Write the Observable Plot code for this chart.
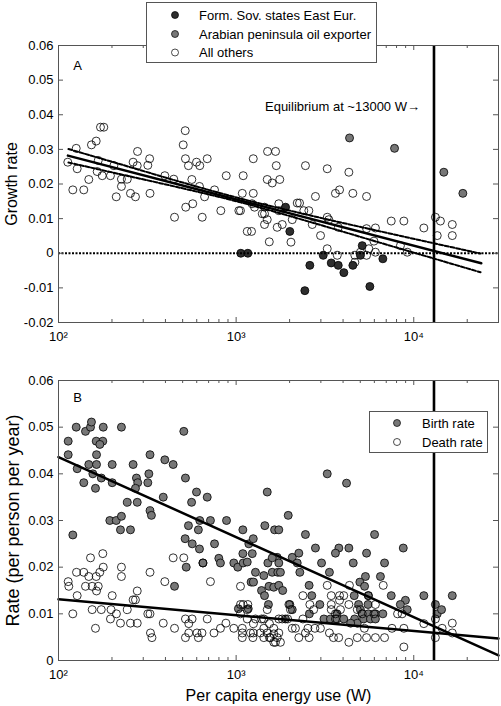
<!DOCTYPE html>
<html><head><meta charset="utf-8">
<script src="https://cdn.jsdelivr.net/npm/d3@7"></script>
<script src="https://cdn.jsdelivr.net/npm/@observablehq/plot@0.6"></script>
<style>
body{margin:0;background:#fff;}
#wrap{position:relative;width:501px;height:706px;overflow:hidden;background:#fff;}
#wrap .panel{position:absolute;left:0;}
#wrap .legend{position:absolute;}
</style>
</head><body>
<div id="wrap"></div>
<script>
// ---------- Panel A data: [energy use (W), growth rate] ----------
const othersA = [[112.8,0.0263],[125.8,0.0303],[127.4,0.0244],[120.4,0.0183],[138.8,0.0183],[148.1,0.0213],[153.3,0.0313],[163,0.0324],[172.3,0.0364],[179.9,0.0364],[165.1,0.0236],[176.3,0.0224],[167.4,0.0268],[196.1,0.0224],[204.9,0.0253],[211.4,0.0163],[226.1,0.0193],[226.1,0.0214],[244,0.0214],[254.2,0.0173],[271.2,0.0163],[263.1,0.0263],[278.6,0.0294],[277.5,0.0253],[318.3,0.0254],[325.9,0.0273],[327.5,0.0173],[396.8,0.0224],[450,0.0104],[445.6,0.0214],[503.6,0.0313],[516.9,0.0354],[518.4,0.0273],[539,0.0253],[520.4,0.0133],[563.2,0.0213],[569.8,0.0143],[598.4,0.0263],[624.2,0.0253],[621.8,0.0193],[644.3,0.0104],[664.4,0.0163],[687.6,0.0273],[755.8,0.0183],[820,0.0123],[879.8,0.0224],[1036,0.0123],[1058,0.0123],[1096,0.0224],[1083,0.0173],[1155,0.0063],[1221,0.0063],[1249,0.0273],[1249,0.0173],[1229,0.0143],[1269,0.0133],[1403,0.0114],[1445,0.0083],[1503,0.0294],[1497,0.0213],[1537,0.0033],[1597,0.0203],[1667,0.0294],[1683,0.0253],[1739,0.0143],[1761,0.0213],[1445,0.0114],[1497,0.0097],[1739,0.0123],[1703,0.0075],[1818,0.0083],[2070,0.0097],[2036,0.0032],[2208,0.0145],[2275,0.0145],[2405,0.0123],[2567,0.0123],[2683,0.0083],[2987,0.0051],[3258,0.0104],[3258,0.0013],[3325,0.0097],[3710,-0.0006],[3760,0.0075],[4312,0.0234],[3258,0.0244],[2456,0.0253],[2796,0.0164],[3623,0.0173],[3822,0.0183],[4541,0.0173],[5424,0.0164],[4661,-0.0006],[4661,-0.0026],[5010,0.0003],[5424,-0.0006],[5588,0.0013],[6085,0.0073],[6085,0.0003],[5970,0.0035],[5424,0.0071],[7470,0.0093],[8797,0.0093],[11400,0.0073],[13240,0.0104],[13560,0.0051],[14130,0.0093],[16480,0.0083],[16480,0.0051],[9192,0.0003],[8414,0.0022],[1445,0.0133]];
const sovietA = [[1063,0],[1164,0],[1898,0.0133],[2006,0.0063],[2437,-0.0108],[2600,-0.0035],[3093,-0.0006],[3431,-0.0028],[3758,-0.0035],[4041,-0.0056],[4541,-0.0035],[5129,0.0022],[5010,-0.0006],[5660,-0.0096],[6699,-0.0016]];
const arabianA = [[4350,0.0333],[7796,0.0303],[14770,0.0234],[18900,0.0173]];

// regression line and its confidence band
const fitAEnergy = [113, 24000];
const fitARate = [0.0282, -0.0029];
const bandEnergy = [113.8, 223.4, 486, 1059, 2624, 6501, 12930, 23770];
const bandUpper = [0.0301, 0.0257, 0.0206, 0.0158, 0.0109, 0.0063, 0.0029, -0.0001];
const bandLower = [0.0262, 0.0228, 0.0189, 0.0147, 0.0090, 0.0030, -0.0015, -0.0055];

// ---------- Panel B data: [energy use (W), rate] ----------
const birthB = [[125.8,0.0500],[141.9,0.0491],[151.4,0.0500],[153.3,0.0511],[178.6,0.0500],[226.1,0.0500],[507.5,0.0491],[113.4,0.0470],[163,0.0470],[177.6,0.0470],[170.9,0.0463],[113.4,0.0441],[163.7,0.0441],[127.4,0.0411],[148.1,0.0420],[163.7,0.0420],[200.6,0.0420],[263.1,0.0420],[327.5,0.0441],[396.8,0.0430],[442.1,0.0420],[138.8,0.0381],[156.1,0.0400],[161.5,0.0369],[174.2,0.0391],[200.6,0.0381],[274.7,0.0391],[279.3,0.0381],[271.2,0.0369],[318.3,0.0381],[322.6,0.0400],[518.4,0.0391],[244,0.0339],[277.5,0.0339],[327.5,0.0321],[333.5,0.0311],[388.8,0.0350],[598.4,0.0361],[561.4,0.0339],[687.6,0.0350],[194.5,0.0300],[211.4,0.0300],[226.1,0.0309],[223.3,0.0280],[254.2,0.0280],[539,0.0289],[516.4,0.0261],[612.9,0.0280],[624.2,0.0300],[716.8,0.0300],[883,0.0300],[1091,0.0280],[1451,0.0289],[1646,0.0280],[120.4,0.0269],[566,0.0250],[621.8,0.0239],[755.8,0.0250],[799,0.0219],[816,0.0209],[970.5,0.0209],[1022,0.0200],[1091,0.0229],[1096,0.0209],[1179,0.0250],[1249,0.0261],[1233,0.0229],[1155,0.0211],[1285,0.0189],[1432,0.0182],[1509,0.0209],[1597,0.0189],[1497,0.0361],[523.6,0.0200],[650.4,0.0209],[1214,0.0168],[1253,0.0168],[1390,0.0150],[1445,0.0139],[1531,0.0159],[1520,0.0120],[1629,0.0157],[1703,0.0221],[1716,0.0189],[450,0.0159],[1030,0.0111],[1170,0.0111],[3258,0.0400],[4184,0.0380],[1965,0.0311],[1739,0.0280],[2456,0.0270],[6017,0.0270],[2796,0.0241],[3787,0.0241],[3623,0.0230],[4312,0.0241],[8730,0.0241],[2070,0.0221],[2254,0.0230],[1597,0.0220],[1739,0.0209],[2208,0.0209],[3026,0.0209],[4564,0.0209],[5424,0.0230],[6848,0.0209],[1776,0.0189],[2284,0.0189],[3352,0.0189],[5346,0.0180],[6493,0.0180],[1739,0.0161],[1829,0.0150],[2576,0.0161],[4972,0.0168],[5287,0.0159],[2666,0.0139],[4623,0.0139],[5552,0.0139],[7470,0.0139],[11400,0.0139],[16480,0.0139],[2006,0.0120],[2960,0.0120],[4890,0.0120],[5527,0.0120],[8978,0.0129],[8403,0.0120],[2070,0.0109],[2585,0.0100],[5010,0.0109],[5129,0.0100],[5552,0.0100],[6085,0.0100],[6699,0.0100],[3698,0.0100],[3122,0.0089],[3396,0.0089],[3698,0.0089],[4036,0.0089],[4648,0.0089],[4810,0.0080],[5220,0.0089],[5703,0.0089],[6085,0.0089],[9192,0.0109],[13240,0.0120],[13560,0.0100],[14340,0.0109],[1895,0.0089],[4412,0.0080]];
const deathB = [[151.4,0.0220],[177.6,0.0229],[126.3,0.0189],[138.8,0.0189],[148.1,0.0180],[163,0.0180],[170.8,0.0189],[178.6,0.0200],[226.1,0.0200],[226.1,0.0180],[327.5,0.0189],[396.8,0.0169],[442.1,0.0220],[507.5,0.0220],[650.4,0.0209],[716.8,0.0169],[1058,0.0159],[113.4,0.0169],[114.3,0.0159],[141.9,0.0159],[154.7,0.0159],[167.4,0.0159],[163.7,0.0149],[127.4,0.0139],[200.6,0.0139],[277.5,0.0149],[263.1,0.0130],[271.2,0.0130],[120.4,0.0100],[154.7,0.0109],[174.1,0.0109],[197.6,0.0109],[211.9,0.0100],[196.1,0.0089],[244,0.0109],[223.3,0.0080],[254.2,0.0080],[277.5,0.0080],[318.3,0.0100],[327.5,0.0100],[161.5,0.0069],[329.4,0.0059],[335.8,0.0049],[388.8,0.0080],[450,0.0069],[518.4,0.0089],[541.3,0.0079],[565,0.0089],[687.6,0.0089],[518.4,0.0049],[541.3,0.0059],[601.9,0.0059],[642.5,0.0059],[612.9,0.0049],[750.6,0.0059],[816,0.0069],[876,0.0080],[970.5,0.0069],[1083,0.0069],[1083,0.0059],[1083,0.0049],[1204,0.0059],[1249,0.0059],[1243,0.0049],[1371,0.0059],[1432,0.0049],[1541,0.0049],[1629,0.0039],[1703,0.0049],[1058,0.0120],[1096,0.0120],[1164,0.0120],[1155,0.0109],[1058,0.0100],[1155,0.0089],[1432,0.0089],[1497,0.0109],[1541,0.0079],[1629,0.0069],[1739,0.0089],[1285,0.0089],[1253,0.0079],[1629,0.0057],[3258,0.0161],[4345,0.0161],[6734,0.0161],[2377,0.0139],[3432,0.0139],[3822,0.0139],[4036,0.0139],[5552,0.0139],[1982,0.0120],[2600,0.0120],[3432,0.0120],[3822,0.0129],[4312,0.0120],[6085,0.0120],[2022,0.0109],[2733,0.0109],[3432,0.0109],[3623,0.0100],[3866,0.0109],[4810,0.0109],[5129,0.0100],[5970,0.0100],[8106,0.0100],[8599,0.0100],[1390,0.0089],[1818,0.0089],[1950,0.0089],[2377,0.0089],[3623,0.0089],[1432,0.0069],[2070,0.0069],[2157,0.0069],[2536,0.0069],[2777,0.0069],[2983,0.0069],[3352,0.0059],[3533,0.0049],[3780,0.0049],[4312,0.0039],[4810,0.0049],[5424,0.0049],[6085,0.0049],[6848,0.0049],[5272,0.0069],[7542,0.0069],[8797,0.0069],[11400,0.0079],[13240,0.0089],[14450,0.0069],[16480,0.0080],[16480,0.0059],[13240,0.0049],[8797,0.0029],[1497,0.0059],[1560,0.0049],[1665,0.0039],[1739,0.0059],[1776,0.0039],[2254,0.0049],[2576,0.0049],[2456,0.0059]];
const birthFitEnergy = [100, 30000];
const birthFitRate = [0.0436, 0.0011];
const deathFitEnergy = [100, 30000];
const deathFitRate = [0.0131, 0.0047];

// ---------- axes / labels ----------
const xDomain = [100, 30000];
const xMajorTicks = [100, 1000, 10000];
const xMinorTicks = [200,300,400,500,600,700,800,900,2000,3000,4000,5000,6000,7000,8000,9000,20000];
const yTicksA = [-0.02,-0.01,0,0.01,0.02,0.03,0.04,0.05,0.06];
const yTicksB = [0,0.01,0.02,0.03,0.04,0.05,0.06];
const yDomainA = [-0.02, 0.06];
const yDomainB = [0, 0.06];
const equilibrium = 13000;
const equilibriumNote = {label: "Equilibrium at ~13000 W\u2192", x: 13000, y: 0.0424};
const legendA = ["Form. Sov. states East Eur.", "Arabian peninsula oil exporter", "All others"];
const legendB = ["Birth rate", "Death rate"];
const xLabel = "Per capita energy use (W)";
const yLabelA = "Growth rate";
const yLabelB = "Rate (per person per year)";

const FONT = "Arial, 'Liberation Sans', sans-serif";
const W = 501, mL = 58, mR = 3, plotW = W - mL - mR;
const FRAME = "#555";
const LABEL_SIZE = 16;
const sup = {2: "\u00b2", 3: "\u00b3", 4: "\u2074"};
const fmtX = d => "10" + sup[Math.round(Math.log10(d))];
const fmtY = d => d === 0 ? "0" : d.toFixed(2);
const toObj = arr => arr.map(([x, y]) => ({x, y}));
const zip = (xs, ys) => xs.map((x, i) => ({x, y: ys[i]}));

function frameMarks(yTicks, plotH) {
  return [
    Plot.tickX(xMajorTicks, {x: d => d, insetTop: plotH - 5, stroke: FRAME}),
    Plot.tickX(xMajorTicks, {x: d => d, insetBottom: plotH - 5, stroke: FRAME}),
    Plot.tickX(xMinorTicks, {x: d => d, insetTop: plotH - 3, stroke: FRAME}),
    Plot.tickX(xMinorTicks, {x: d => d, insetBottom: plotH - 3, stroke: FRAME}),
    Plot.tickY(yTicks, {y: d => d, insetRight: plotW - 5, stroke: FRAME}),
    Plot.tickY(yTicks, {y: d => d, insetLeft: plotW - 5, stroke: FRAME}),
    Plot.axisX(xMajorTicks, {tickSize: 0, tickPadding: 9, tickFormat: fmtX, label: null, fontSize: 13, fontFamily: FONT}),
    Plot.axisY(yTicks, {tickSize: 0, tickPadding: 5, tickFormat: fmtY, label: null, fontSize: 13, fontFamily: FONT}),
    Plot.frame({stroke: FRAME})
  ];
}

// ---------- Panel A ----------
const hA = 345, mTA = 45, mBA = 23;
const chartA = Plot.plot({
  width: W, height: hA, marginLeft: mL, marginRight: mR, marginTop: mTA, marginBottom: mBA,
  style: {fontFamily: FONT, fontSize: "13px", background: "transparent", color: "#000"},
  x: {type: "log", domain: xDomain},
  y: {domain: yDomainA},
  marks: [
    Plot.dot(toObj(othersA), {x: "x", y: "y", r: 4, stroke: "#000", strokeWidth: 0.8, fill: "none"}),
    Plot.dot(toObj(sovietA), {x: "x", y: "y", r: 4, stroke: "#000", strokeWidth: 0.8, fill: "#2e2e2e"}),
    Plot.dot(toObj(arabianA), {x: "x", y: "y", r: 4, stroke: "#000", strokeWidth: 0.8, fill: "#777"}),
    Plot.ruleY([0], {stroke: "#000", strokeWidth: 2, strokeDasharray: "2,1.5"}),
    Plot.line(zip(bandEnergy, bandUpper), {x: "x", y: "y", stroke: "#000", strokeWidth: 2, strokeDasharray: "4,1.8", curve: "catmull-rom"}),
    Plot.line(zip(bandEnergy, bandLower), {x: "x", y: "y", stroke: "#000", strokeWidth: 2, strokeDasharray: "4,1.8", curve: "catmull-rom"}),
    Plot.line(zip(fitAEnergy, fitARate), {x: "x", y: "y", stroke: "#000", strokeWidth: 2.5}),
    Plot.ruleX([equilibrium], {stroke: "#000", strokeWidth: 2.6}),
    Plot.text([equilibriumNote], {x: "x", y: "y", text: "label", textAnchor: "end", dx: -14, fontSize: 13, fontFamily: FONT}),
    Plot.text(["A"], {frameAnchor: "top-left", text: d => d, textAnchor: "middle", lineAnchor: "middle", dx: 19, dy: 20, fontSize: 13, fontFamily: FONT}),
    Plot.text([yLabelA], {frameAnchor: "left", text: d => d, textAnchor: "middle", lineAnchor: "middle", rotate: -90, dx: -47, fontSize: LABEL_SIZE, fontFamily: FONT}),
    ...frameMarks(yTicksA, hA - mTA - mBA)
  ]
});

// ---------- Panel B ----------
const hB = 361, mTB = 35, mBB = 46;
const chartB = Plot.plot({
  width: W, height: hB, marginLeft: mL, marginRight: mR, marginTop: mTB, marginBottom: mBB,
  style: {fontFamily: FONT, fontSize: "13px", background: "transparent", color: "#000"},
  x: {type: "log", domain: xDomain},
  y: {domain: yDomainB},
  marks: [
    Plot.dot(toObj(birthB), {x: "x", y: "y", r: 4, stroke: "#000", strokeWidth: 0.8, fill: "#777"}),
    Plot.dot(toObj(deathB), {x: "x", y: "y", r: 4, stroke: "#000", strokeWidth: 0.8, fill: "none"}),
    Plot.line(zip(birthFitEnergy, birthFitRate), {x: "x", y: "y", stroke: "#000", strokeWidth: 2.5}),
    Plot.line(zip(deathFitEnergy, deathFitRate), {x: "x", y: "y", stroke: "#000", strokeWidth: 2.5}),
    Plot.ruleX([equilibrium], {stroke: "#000", strokeWidth: 2.6}),
    Plot.text(["B"], {frameAnchor: "top-left", text: d => d, textAnchor: "middle", lineAnchor: "middle", dx: 19, dy: 17, fontSize: 13, fontFamily: FONT}),
    Plot.text([yLabelB], {frameAnchor: "left", text: d => d, textAnchor: "middle", lineAnchor: "middle", rotate: -90, dx: -45, fontSize: 18, fontFamily: FONT}),
    Plot.text([xLabel], {frameAnchor: "bottom", text: d => d, textAnchor: "middle", lineAnchor: "middle", dy: 35, fontSize: LABEL_SIZE, fontFamily: FONT}),
    ...frameMarks(yTicksB, hB - mTB - mBB)
  ]
});

const wrap = document.getElementById("wrap");
chartA.classList.add("panel"); chartA.style.top = "0px";
chartB.classList.add("panel"); chartB.style.top = hA + "px";
wrap.appendChild(chartA);
wrap.appendChild(chartB);

// ---------- Legends ----------
function makeLegend(items, fills, left, top, w, h, cx, rows, tx) {
  const ns = "http://www.w3.org/2000/svg";
  const svg = document.createElementNS(ns, "svg");
  svg.setAttribute("width", w); svg.setAttribute("height", h);
  svg.setAttribute("class", "legend");
  svg.style.left = left + "px"; svg.style.top = top + "px";
  const rect = document.createElementNS(ns, "rect");
  rect.setAttribute("x", 0.5); rect.setAttribute("y", 0.5);
  rect.setAttribute("width", w - 1); rect.setAttribute("height", h - 1);
  rect.setAttribute("fill", "#fff"); rect.setAttribute("stroke", FRAME);
  svg.appendChild(rect);
  items.forEach((label, i) => {
    const c = document.createElementNS(ns, "circle");
    c.setAttribute("cx", cx); c.setAttribute("cy", rows[i]); c.setAttribute("r", 3.5);
    c.setAttribute("fill", fills[i]); c.setAttribute("stroke", "#000"); c.setAttribute("stroke-width", 0.7);
    svg.appendChild(c);
    const t = document.createElementNS(ns, "text");
    t.setAttribute("x", tx); t.setAttribute("y", rows[i]); t.setAttribute("dy", "0.35em");
    t.setAttribute("font-family", FONT); t.setAttribute("font-size", 13);
    t.textContent = label;
    svg.appendChild(t);
  });
  wrap.appendChild(svg);
}
makeLegend(legendA, ["#2e2e2e", "#777", "none"], 146, 2, 231, 61, 29, [13, 32, 50.5], 53);
makeLegend(legendB, ["#777", "none"], 369, 411, 119, 42, 28, [12, 31], 53);
</script>
</body></html>
